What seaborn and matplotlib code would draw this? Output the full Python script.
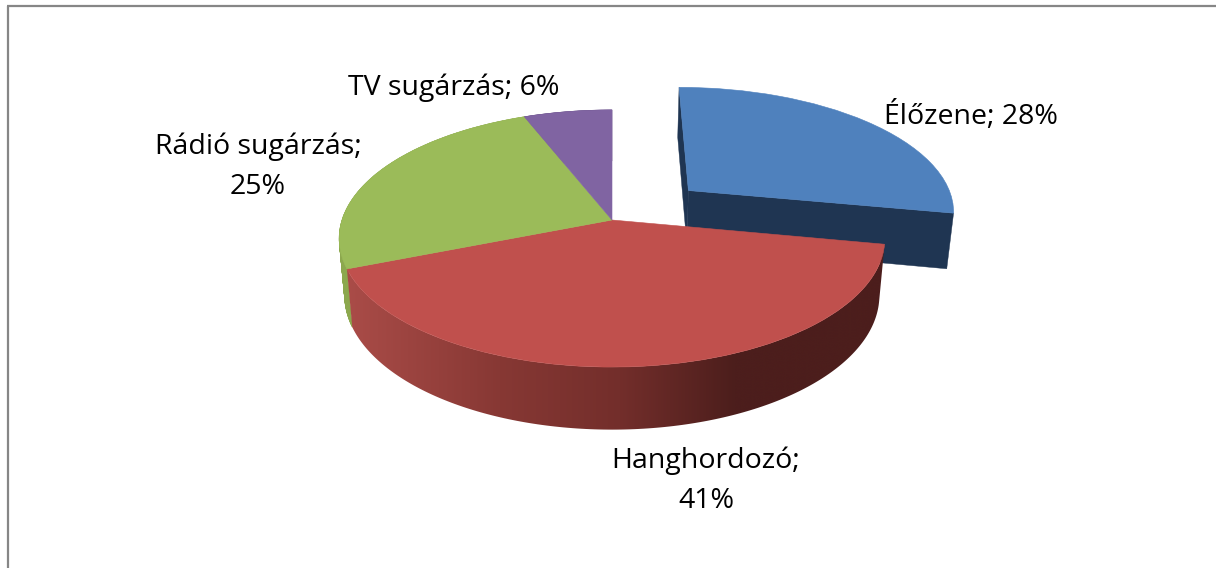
import numpy as np
import seaborn as sns
import matplotlib
matplotlib.use("Agg")
import matplotlib.pyplot as plt
from matplotlib.collections import PolyCollection
from matplotlib.patches import Polygon
from matplotlib.transforms import Transform

categories = ["Élőzene", "Hanghordozó", "Rádió sugárzás", "TV sugárzás"]
shares = [28, 41, 25, 6]
explode = [0.38, 0, 0, 0]
top_colors = ["#4F81BD", "#C0504D", "#9BBB59", "#8064A2"]
wall_colors = ["#1F3552", None, "#8CA84E", "#6A5388"]
label_lines = ["Élőzene; 28%", "Hanghordozó;\n41%", "Rádió sugárzás;\n25%", "TV sugárzás; 6%"]
label_xy = [(971, 116), (706, 481), (258, 167), (454, 88)]

# projection of the tilted pie on the picture (pixels)
CX, CY, A, B, K = 612.0, 220.0, 270.0, 125.9, 0.1439
FONT = "Open Sans"
FONT_SIZE = 20.5


class Tilt(Transform):
    input_dims = 2
    output_dims = 2
    is_separable = False
    has_inverse = False

    def transform_non_affine(self, values):
        values = np.asarray(values, dtype=float)
        den = 1 + K * values[:, 1]
        return np.column_stack((CX + A * values[:, 0] / den,
                                CY - B * values[:, 1] / den))


tilt = Tilt()


def drop(xy):
    """Move top-face picture points to the bottom face of the disc."""
    xy = np.asarray(xy)
    depth = 50 + 0.045 * (xy[:, 1] - 88)
    return np.column_stack((CX + (xy[:, 0] - CX) * 0.98, xy[:, 1] + depth))


def red_shade(x):
    px = [347, 500, 620, 735, 890]
    return np.column_stack([
        np.interp(x, px, [170, 135, 115, 76, 76]),
        np.interp(x, px, [76, 56, 46, 30, 30]),
        np.interp(x, px, [72, 52, 43, 28, 28]),
    ]) / 255


sns.set_theme(style="white")
plt.rcParams["font.family"] = [FONT, "DejaVu Sans"]

fig, ax = plt.subplots(figsize=(12.16, 5.68), dpi=100)
fig.subplots_adjust(0, 0, 1, 1)
wedges, _ = ax.pie(shares, explode=explode, colors=top_colors, startangle=90,
                   counterclock=False, radius=1)

wall_order = {0: 1, 2: 3, 3: 3, 1: 4}
for i, w in enumerate(wedges):
    w.set_transform(tilt + ax.transData)
    w.set_clip_on(False)
    w.set_zorder(2 if i == 0 else 5)
    w.set_edgecolor(top_colors[i])
    w.set_linewidth(0.4)
    theta = np.radians(np.linspace(w.theta1, w.theta2, 180))
    cx, cy = w.center
    rim = tilt.transform(np.column_stack((cx + np.cos(theta), cy + np.sin(theta))))
    low = drop(rim)
    if explode[i]:
        # the far rim of the pulled-out slice stays hidden: only its cut faces show
        hub = tilt.transform(np.array([[cx, cy]]))
        for end in (rim[0], rim[-1]):
            pts = np.vstack((hub, end[None]))
            deep = drop(pts)
            ax.fill(*np.vstack((pts, deep[::-1])).T, color=wall_colors[i], lw=0.3,
                    zorder=wall_order[i])
    elif wall_colors[i] is None:
        x0, x1 = low[:, 0].min() - 8, rim[:, 0].max() + 8
        y0, y1 = rim[:, 1].min() - 2, low[:, 1].max() + 2
        grid = np.linspace(x0, x1, 600)
        image = ax.imshow(red_shade(grid)[None, :, :], extent=(x0, x1, y1, y0), aspect="auto",
                          interpolation="bilinear", zorder=wall_order[i])
        outline = Polygon(np.vstack((rim, low[::-1])), closed=True, transform=ax.transData,
                          facecolor="none", edgecolor="none")
        ax.add_patch(outline)
        image.set_clip_path(outline)
    else:
        quads = [[rim[j], rim[j + 1], low[j + 1], low[j]] for j in range(len(rim) - 1)]
        ax.add_collection(PolyCollection(quads, facecolors=wall_colors[i], edgecolors=wall_colors[i],
                                         linewidths=0.4, zorder=wall_order[i]), autolim=False)

ax.set_aspect("auto")
ax.set_xlim(0, 1216)
ax.set_ylim(568, 0)
ax.axis("off")

for text, (x, y) in zip(label_lines, label_xy):
    ax.text(x, y, text, ha="center", va="center", fontsize=FONT_SIZE, color="black",
            linespacing=1.55, zorder=8)

ax.plot([8, 8], [6, 568], color="#868686", lw=1.6, solid_capstyle="butt", zorder=9)
ax.plot([7, 1216], [6, 6], color="#868686", lw=1.6, solid_capstyle="butt", zorder=9)

fig.savefig("out.png", dpi=100, facecolor="white")
